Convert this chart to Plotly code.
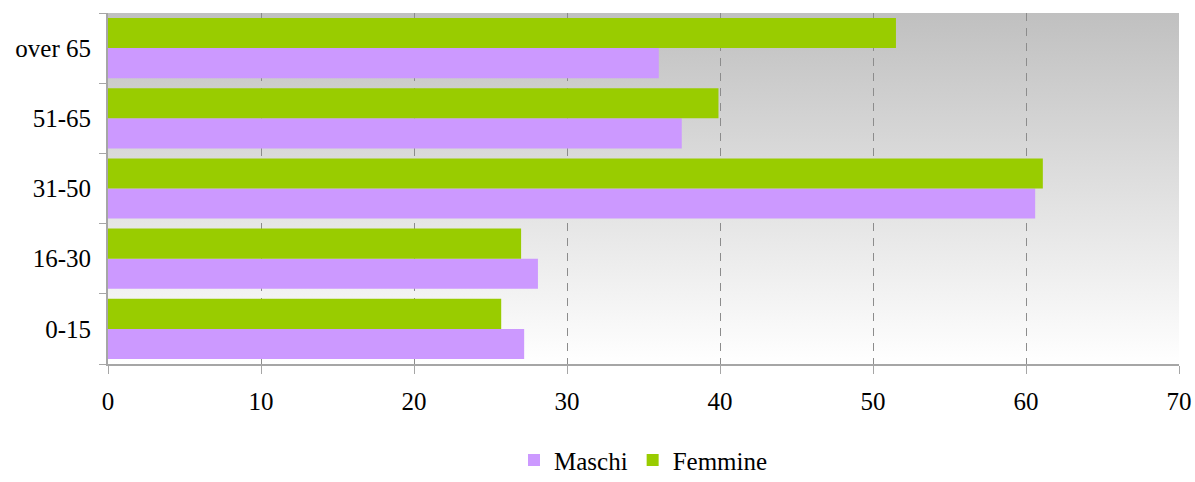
import base64
import plotly.graph_objects as go

categories = ["0-15", "16-30", "31-50", "51-65", "over 65"]
maschi = [27.2, 28.1, 60.6, 37.5, 36.0]
femmine = [25.7, 27.0, 61.1, 39.9, 51.5]
x_ticks = [0, 10, 20, 30, 40, 50, 60, 70]

font_family = "Liberation Serif, Times New Roman, serif"

fig = go.Figure()
fig.add_trace(go.Bar(y=categories, x=maschi, name="Maschi", orientation="h",
                     marker=dict(color="#cc99ff", line=dict(width=0))))
fig.add_trace(go.Bar(y=categories, x=femmine, name="Femmine", orientation="h",
                     marker=dict(color="#99cc00", line=dict(width=0))))

# vertical gradient background (SVG data URI)
svg = ('<svg xmlns="http://www.w3.org/2000/svg" width="100" height="100" preserveAspectRatio="none">'
       '<defs><linearGradient id="g" x1="0" y1="0" x2="0" y2="1">'
       '<stop offset="0" stop-color="#c0c0c0"/><stop offset="1" stop-color="#ffffff"/>'
       '</linearGradient></defs><rect width="100" height="100" fill="url(#g)"/></svg>')
src = "data:image/svg+xml;base64," + base64.b64encode(svg.encode()).decode()

fig.add_layout_image(dict(source=src, xref="x domain", yref="y domain",
                          x=0, y=1, sizex=1, sizey=1, xanchor="left", yanchor="top",
                          sizing="stretch", layer="below", opacity=1))

fig.update_layout(
    width=1195, height=482,
    margin=dict(l=108, r=16, t=13, b=118),
    barmode="group", bargap=0.143, bargroupgap=0,
    plot_bgcolor="rgba(0,0,0,0)", paper_bgcolor="white",
    font=dict(family=font_family, size=25, color="black"),
    showlegend=True,
    legend=dict(orientation="h", x=0.5, xanchor="center", xref="paper",
                y=0.045, yanchor="middle", yref="container",
                font=dict(size=25), traceorder="normal",
                tracegroupgap=0),
    xaxis=dict(range=[0, 70], tickvals=x_ticks, ticktext=[str(v) for v in x_ticks],
               showgrid=True, gridcolor="#8c8c8c", griddash="8px,7px", gridwidth=1,
               showline=True, linecolor="#a6a6a6", linewidth=2,
               ticks="outside", ticklen=8, tickcolor="#a6a6a6", tickwidth=1,
               zeroline=False, ticklabelstandoff=6, automargin=False),
    yaxis=dict(categoryorder="array", categoryarray=categories,
               showgrid=False, showline=True, linecolor="#a6a6a6", linewidth=2,
               ticks="outside", ticklen=7, tickcolor="#a6a6a6", tickwidth=1,
               tickson="boundaries", ticklabelstandoff=10, automargin=False),
)

fig.write_html("out.html")
